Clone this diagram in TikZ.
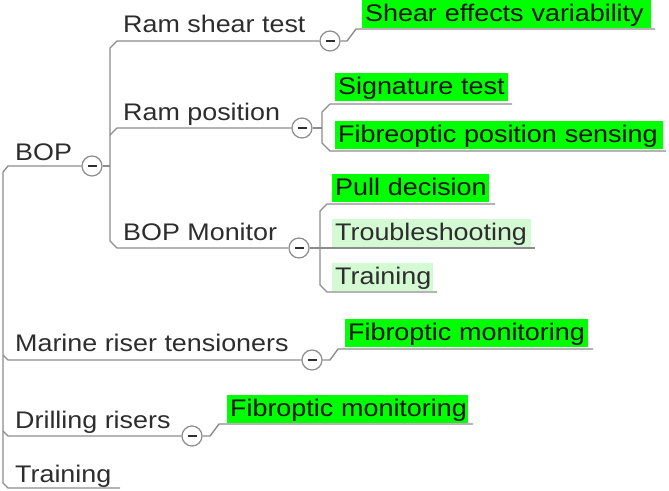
\documentclass[tikz,border=0pt]{standalone}
\usepackage{fontspec}
\setmainfont[FakeStretch=1.12]{Liberation Sans}
\definecolor{lin}{RGB}{140,140,140}
\definecolor{txt}{RGB}{45,45,45}
\definecolor{btxt}{RGB}{20,20,20}
\definecolor{gg}{RGB}{0,255,0}
\definecolor{lg}{RGB}{212,250,212}
\begin{document}
\begin{tikzpicture}[x=1pt,y=-1pt,
  lbl/.style={anchor=base west, inner sep=0pt, text=txt, font=\fontsize{24}{28}\selectfont},
  box/.style={anchor=south west, inner xsep=3pt, inner ysep=0pt, text height=22pt, text depth=6pt, align=left, text=btxt, font=\fontsize{24}{28}\selectfont},
  gbox/.style={box, fill=gg},
  lbox/.style={box, fill=lg, text=txt},
  tog/.style={circle, draw=lin, line width=1.2pt, fill=white, minimum size=20pt, inner sep=0pt,
    path picture={\draw[txt, line width=1.6pt] ([xshift=-4.5pt]path picture bounding box.center) -- ([xshift=4.5pt]path picture bounding box.center);}},
  ln/.style={draw=lin, line width=1.4pt}]
\useasboundingbox (0,0) rectangle (669,490);

% text labels
\node[lbl] (bop) at (15,160) {BOP};
\node[lbl] (rst) at (123,32) {Ram shear test};
\node[lbl] (rpo) at (123,120) {Ram position};
\node[lbl] (mon) at (123,240) {BOP Monitor};
\node[lbl] (mrt) at (15,351) {Marine riser tensioners};
\node[lbl] (dri) at (15,428) {Drilling risers};
\node[lbl] (trn) at (15,482) {Training};

% boxes
\node[gbox, text width=283pt] (sev) at (362,28) {\mbox{Shear effects variability}};
\node[gbox, text width=167pt] (sig) at (335,101) {\mbox{Signature test}};
\node[gbox, text width=322pt] (fps) at (335,149) {\mbox{Fibreoptic position sensing}};
\node[gbox, text width=151pt] (pull) at (332,202) {\mbox{Pull decision}};
\node[lbox, text width=193pt] (trb) at (332,247) {\mbox{Troubleshooting}};
\node[lbox, text width=95pt] (trm) at (332,291) {\mbox{Training}};
\node[gbox, text width=237pt] (fm1) at (345,347) {\mbox{Fibroptic monitoring}};
\node[gbox, text width=235pt] (fm2) at (227,423) {\mbox{Fibroptic monitoring}};

% toggles
\node[tog] (c0) at (92,166) {};
\node[tog] (c1) at (330,41) {};
\node[tog] (c2) at (302,128) {};
\node[tog] (c3) at (299,248) {};
\node[tog] (c4) at (312,360) {};
\node[tog] (c5) at (192,436) {};

% root level
\draw[ln] (c0.west) -- (8,166) -- (3,172) -- (3,483) -- (8,488) -- (120,488);
\draw[ln] (c4.west) -- (8,360) -- (3,355);
\draw[ln] (c5.west) -- (8,436) -- (3,431);

% BOP children
\draw[ln] (c0.east) -- (110,166);
\draw[ln] (c1.west) -- (117,41) -- (110,48) -- (110,241) -- (117,248) -- (c3.west);
\draw[ln] (c2.west) -- (117,128) -- (110,135);

% Ram shear test
\draw[ln] (c1.east) -- (347,41) -- (356,29) -- (655,29);

% Ram position
\draw[ln] (c2.east) -- (322,128);
\draw[ln] (512,104) -- (330,104) -- (322,112) -- (322,143) -- (330,151) -- (666,151);

% BOP Monitor
\draw[ln] (c3.east) -- (535,248);
\draw[ln] (495,204) -- (327,204) -- (320,211) -- (320,285) -- (327,292) -- (437,292);

% Marine riser tensioners
\draw[ln] (c4.east) -- (330,360) -- (338,349) -- (593,349);

% Drilling risers
\draw[ln] (c5.east) -- (210,436) -- (219,424) -- (473,424);
\end{tikzpicture}
\end{document}
